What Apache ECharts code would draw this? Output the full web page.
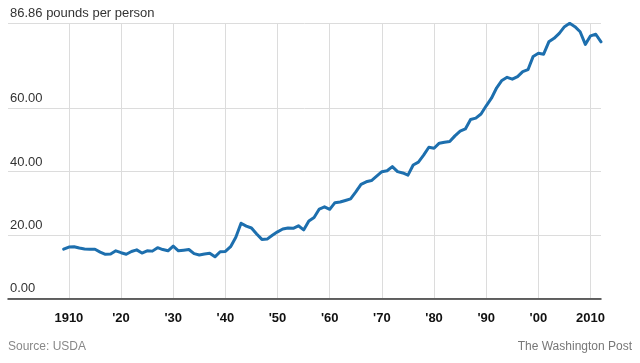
<!DOCTYPE html>
<html>
<head>
<meta charset="utf-8">
<script src="https://cdn.jsdelivr.net/npm/echarts@6/dist/echarts.min.js"></script>
<style>
html,body{margin:0;padding:0;background:#fff;}
#chart{width:640px;height:363px;}
</style>
</head>
<body>
<div id="chart"></div>
<script>
// Years 1909..2012
const years = [];
for (let y = 1909; y <= 2012; y++) years.push(y);

const poundsPerPerson = [
  15.5, 16.2, 16.3, 15.9, 15.6, 15.5, 15.5, 14.6, 13.9, 14.0,   // 1909-1918
  15.0, 14.4, 13.9, 14.8, 15.3, 14.3, 15.0, 14.9, 16.0, 15.4,   // 1919-1928
  15.0, 16.5, 15.0, 15.2, 15.4, 14.1, 13.7, 14.0, 14.2, 13.1,   // 1929-1938
  14.7, 14.8, 16.3, 19.3, 23.7, 22.8, 22.2, 20.3, 18.6, 18.7,   // 1939-1948
  19.9, 21.0, 21.9, 22.2, 22.1, 22.9, 21.6, 24.4, 25.5, 28.2,   // 1949-1958
  28.9, 28.1, 30.2, 30.4, 30.9, 31.4, 33.6, 36.0, 36.8, 37.2,   // 1959-1968
  38.6, 40.0, 40.3, 41.6, 40.0, 39.6, 38.9, 42.1, 43.0, 45.2,   // 1969-1978
  47.7, 47.4, 49.0, 49.3, 49.5, 51.3, 52.8, 53.5, 56.5, 56.9,   // 1979-1988
  58.2, 60.8, 63.2, 66.5, 68.8, 69.8, 69.2, 70.0, 71.6, 72.2,   // 1989-1998
  76.4, 77.4, 77.1, 81.0, 82.1, 83.7, 85.8, 86.86, 85.8, 84.2,  // 1999-2008
  80.2, 82.9, 83.4, 81.0                                         // 2009-2012
];

const xTickValues = [1910, 1920, 1930, 1940, 1950, 1960, 1970, 1980, 1990, 2000, 2010];
const xTickLabels = ["1910", "'20", "'30", "'40", "'50", "'60", "'70", "'80", "'90", "'00", "2010"];
const yTickValues = [0, 20, 40, 60, 86.86];
const yTitle = "86.86 pounds per person";
const sourceText = "Source: USDA";
const creditText = "The Washington Post";

const FONT = '"Liberation Sans", Arial, Helvetica, sans-serif';

const chart = echarts.init(document.getElementById('chart'), null, {renderer: 'canvas'});
chart.setOption({
  animation: false,
  backgroundColor: '#ffffff',
  grid: {left: 8, right: 39, top: 23.3, bottom: 64.7, containLabel: false},
  xAxis: {
    type: 'value',
    min: 1898.33,
    max: 2012,
    axisLine: {show: true, onZero: false, lineStyle: {color: '#333333', width: 1.5}},
    axisTick: {show: false, customValues: xTickValues},
    splitLine: {show: true, lineStyle: {color: '#dcdcdc', width: 1}},
    axisLabel: {
      customValues: xTickValues,
      margin: 14,
      color: '#111111',
      fontWeight: 'bold',
      fontSize: 13,
      fontFamily: FONT,
      formatter: function (v) {
        const i = xTickValues.indexOf(v);
        return i >= 0 ? xTickLabels[i] : '';
      }
    }
  },
  yAxis: {
    type: 'value',
    min: 0,
    max: 86.86,
    axisLine: {show: false},
    axisTick: {show: false, customValues: yTickValues},
    splitLine: {show: true, lineStyle: {color: '#dcdcdc', width: 1}},
    axisLabel: {
      customValues: yTickValues,
      inside: true,
      margin: 2,
      align: 'left',
      verticalAlign: 'bottom',
      padding: [0, 0, 3, 0],
      color: '#333333',
      fontSize: 13,
      fontFamily: FONT,
      showMinLabel: true,
      showMaxLabel: true,
      formatter: function (v) {
        if (Math.abs(v - 86.86) < 1e-6) return yTitle;
        return v.toFixed(2);
      }
    }
  },
  series: [{
    type: 'line',
    data: years.map((y, i) => [y, poundsPerPerson[i]]),
    showSymbol: false,
    symbol: 'none',
    lineStyle: {color: '#1d6fae', width: 3, join: 'round', cap: 'round'},
    z: 5
  }],
  graphic: [
    {type: 'text', left: 8, top: 341, style: {text: sourceText, fill: '#888888', font: '12px ' + FONT}},
    {type: 'text', right: 8, top: 341, style: {text: creditText, fill: '#777777', font: '12px ' + FONT}}
  ]
});
</script>
</body>
</html>
